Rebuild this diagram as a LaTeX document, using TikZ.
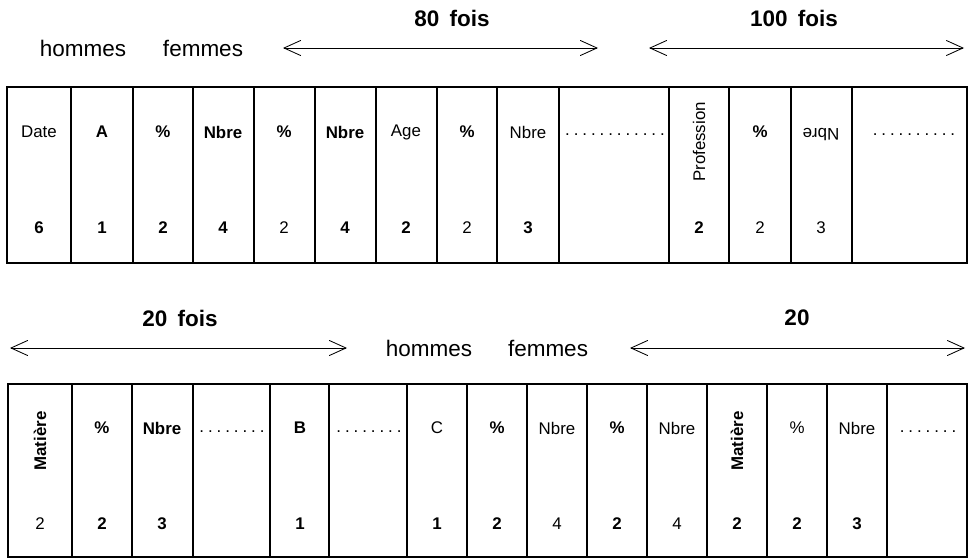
\documentclass[tikz,border=0pt]{standalone}
\usepackage{fontspec}
\setmainfont{Liberation Sans}
\usetikzlibrary{arrows.meta}
\newcommand{\pointilles}[1]{\foreach \i in {1,...,#1}{\hspace{1.4pt}.\hspace{1.4pt}}}

\begin{document}
\begin{tikzpicture}[x=0.025cm,y=-0.025cm,
        every node/.style={inner sep=0pt,font=\fontsize{12}{14}\selectfont},
        gras/.style={font=\fontsize{12}{14}\selectfont\bfseries},
        titre/.style={font=\fontsize{16}{18}\selectfont},
        titregras/.style={font=\fontsize{16}{18}\selectfont\bfseries},
        fleche/.style={line width=0.6pt,
            {Straight Barb[length=4.2mm,width=3.8mm]}-{Straight Barb[length=4.2mm,width=3.8mm]}}]
                \useasboundingbox (0,0) rectangle (973,559);
                % premiere ligne
                \node[titre] (hom1) at (83,48) {hommes};
                \node[titre] (fem1) at (203,48) {femmes};
                \node[titregras] (f80) at (452,18) {80\hspace{0.45em}fois};
                \node[titregras] (f100) at (794,18) {100\hspace{0.45em}fois};
                \coordinate (g80) at (283,48);
                \coordinate (d80) at (598,48);
                \coordinate (g100) at (649,48);
                \coordinate (d100) at (964,48);
                \draw [fleche] (g80) -- (d80);
                \draw [fleche] (g100) -- (d100);
                \draw [line width=1.5pt] (7,87) rectangle (967,263);
                \draw [line width=1pt] (71,87) -- (71,263) (133,87) -- (133,263)
                    (193,87) -- (193,263) (254,87) -- (254,263) (315,87) -- (315,263)
                    (376,87) -- (376,263) (437,87) -- (437,263) (497,87) -- (497,263)
                    (559,87) -- (559,263) (669,87) -- (669,263) (729,87) -- (729,263)
                    (791,87) -- (791,263) (852,87) -- (852,263);
                \node (date) at (39,132) {Date};
                \node[gras] (a) at (102,132) {A};
                \node[gras] (pc1) at (163,132) {\%};
                \node[gras] (nb1) at (223,132) {Nbre};
                \node[gras] (pc2) at (284,132) {\%};
                \node[gras] (nb2) at (345,132) {Nbre};
                \node (age) at (406,132) {Age};
                \node[gras] (pc3) at (467,132) {\%};
                \node (nb3) at (528,132) {Nbre};
                \node (pt1) at (614,135) {\pointilles{12}};
                \node[rotate=90] (prof) at (699,142) {Profession};
                \node[gras] (pc4) at (760,132) {\%};
                \node[rotate=180] (nb4) at (821,135) {Nbre};
                \node (pt2) at (913,135) {\pointilles{10}};
                \node[gras] (n1) at (39,228) {6};
                \node[gras] (n2) at (102,228) {1};
                \node[gras] (n3) at (163,228) {2};
                \node[gras] (n4) at (223,228) {4};
                \node (n5) at (284,228) {2};
                \node[gras] (n6) at (345,228) {4};
                \node[gras] (n7) at (406,228) {2};
                \node (n8) at (467,228) {2};
                \node[gras] (n9) at (528,228) {3};
                \node[gras] (n10) at (699,228) {2};
                \node (n11) at (760,228) {2};
                \node (n12) at (821,228) {3};
                % deuxieme ligne
                \node[titregras] (f20) at (180,318) {20\hspace{0.45em}fois};
                \node[titregras] (v20) at (797,318) {20};
                \node[titre] (hom2) at (429,348) {hommes};
                \node[titre] (fem2) at (548,348) {femmes};
                \coordinate (g20) at (10,348);
                \coordinate (d20) at (347,348);
                \coordinate (gv20) at (630,348);
                \coordinate (dv20) at (965,348);
                \draw [fleche] (g20) -- (d20);
                \draw [fleche] (gv20) -- (dv20);
                \draw [line width=1.5pt] (8,384) rectangle (967,557);
                \draw [line width=1pt] (72,384) -- (72,557) (132,384) -- (132,557)
                    (193,384) -- (193,557) (270,384) -- (270,557) (329,384) -- (329,557)
                    (407,384) -- (407,557) (467,384) -- (467,557) (527,384) -- (527,557)
                    (587,384) -- (587,557) (647,384) -- (647,557) (707,384) -- (707,557)
                    (767,384) -- (767,557) (827,384) -- (827,557) (887,384) -- (887,557);
                \node[gras,rotate=90] (mat1) at (40,441) {Matière};
                \node[gras] (pc5) at (102,428) {\%};
                \node[gras] (nb5) at (162,428) {Nbre};
                \node (pt3) at (231,432) {\pointilles{8}};
                \node[gras] (b) at (300,428) {B};
                \node (pt4) at (368,432) {\pointilles{8}};
                \node (c) at (437,428) {C};
                \node[gras] (pc6) at (497,428) {\%};
                \node (nb6) at (557,428) {Nbre};
                \node[gras] (pc7) at (617,428) {\%};
                \node (nb7) at (677,428) {Nbre};
                \node[gras,rotate=90] (mat2) at (737,441) {Matière};
                \node (pc8) at (797,428) {\%};
                \node (nb8) at (857,428) {Nbre};
                \node (pt5) at (927,432) {\pointilles{7}};
                \node (m1) at (40,524) {2};
                \node[gras] (m2) at (102,524) {2};
                \node[gras] (m3) at (162,524) {3};
                \node[gras] (m4) at (300,524) {1};
                \node[gras] (m5) at (437,524) {1};
                \node[gras] (m6) at (497,524) {2};
                \node (m7) at (557,524) {4};
                \node[gras] (m8) at (617,524) {2};
                \node (m9) at (677,524) {4};
                \node[gras] (m10) at (737,524) {2};
                \node[gras] (m11) at (797,524) {2};
                \node[gras] (m12) at (857,524) {3};
            \end{tikzpicture}
\end{document}
